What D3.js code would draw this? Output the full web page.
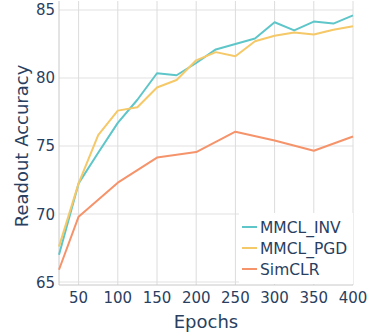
<!DOCTYPE html>
<html>
<head>
<meta charset="utf-8">
<script src="https://cdn.jsdelivr.net/npm/d3@7"></script>
<style>
  body { margin: 0; background: #fff; }
  text { font-family: "DejaVu Sans", Verdana, sans-serif; fill: #2a3f5f; }
</style>
</head>
<body>
<svg id="chart" width="373" height="332"></svg>
<script>
// data
const epochs = [25, 50, 75, 100, 125, 150, 175, 200, 225, 250, 275, 300, 325, 350, 375, 400];
const mmclInv = [67.0, 72.25, 74.5, 76.7, 78.4, 80.35, 80.2, 81.1, 82.1, 82.5, 82.9, 84.1, 83.5, 84.15, 84.0, 84.6];
const mmclPgd = [67.6, 72.25, 75.8, 77.6, 77.85, 79.3, 79.85, 81.3, 81.9, 81.6, 82.7, 83.1, 83.35, 83.2, 83.55, 83.8];
const simEpochs = [25, 50, 100, 150, 200, 250, 300, 350, 400];
const simclr = [65.9, 69.8, 72.3, 74.15, 74.55, 76.05, 75.4, 74.65, 75.7];
const xTicks = [50, 100, 150, 200, 250, 300, 350, 400];
const yTicks = [65, 70, 75, 80, 85];

const series = [
  { name: "MMCL_INV", xs: epochs, ys: mmclInv, color: "#5ec6c9" },
  { name: "MMCL_PGD", xs: epochs, ys: mmclPgd, color: "#f5c868" },
  { name: "SimCLR", xs: simEpochs, ys: simclr, color: "#f5936b" }
];

const svg = d3.select("#chart");
const pLeft = 59, pRight = 353, pTop = 1, pBottom = 285;

const x = d3.scaleLinear().domain([25, 400]).range([pLeft, pRight]);
const y = d3.scaleLinear().domain([64.78, 85.66]).range([pBottom, pTop]);

// grid
svg.selectAll(".hgrid").data(yTicks).enter().append("line")
  .attr("x1", pLeft).attr("x2", pRight)
  .attr("y1", d => y(d)).attr("y2", d => y(d))
  .attr("stroke", "#ebebeb").attr("stroke-width", 1.5);
svg.selectAll(".vgrid").data(xTicks).enter().append("line")
  .attr("x1", d => x(d)).attr("x2", d => x(d))
  .attr("y1", pTop).attr("y2", pBottom)
  .attr("stroke", "#dcdcdc").attr("stroke-width", 1);

// axis lines
svg.append("line").attr("x1", pLeft).attr("x2", pLeft).attr("y1", pTop).attr("y2", pBottom)
  .attr("stroke", "#c8c8c8").attr("stroke-width", 1);
svg.append("line").attr("x1", pLeft).attr("x2", pRight).attr("y1", pBottom).attr("y2", pBottom)
  .attr("stroke", "#c8c8c8").attr("stroke-width", 1);

// tick labels
svg.selectAll(".xt").data(xTicks).enter().append("text")
  .attr("x", d => x(d)).attr("y", 303)
  .attr("text-anchor", "middle").attr("font-size", 15)
  .text(d => d);
svg.selectAll(".yt").data(yTicks).enter().append("text")
  .attr("x", 55).attr("y", d => y(d) + 5.5)
  .attr("text-anchor", "end").attr("font-size", 15)
  .text(d => d);

// axis titles
svg.append("text").attr("x", 206).attr("y", 328)
  .attr("text-anchor", "middle").attr("font-size", 18).text("Epochs");
svg.append("text").attr("transform", "translate(28,146) rotate(-90)")
  .attr("text-anchor", "middle").attr("font-size", 18).text("Readout Accuracy");

// lines
const line = d3.line().x(d => x(d[0])).y(d => y(d[1]));
series.forEach(s => {
  svg.append("path")
    .datum(s.xs.map((v, i) => [v, s.ys[i]]))
    .attr("d", line)
    .attr("fill", "none")
    .attr("stroke", s.color)
    .attr("stroke-width", 2)
    .attr("stroke-linejoin", "round");
});

// legend
const lg = svg.append("g");
lg.append("rect").attr("x", 239).attr("y", 213).attr("width", 114).attr("height", 71)
  .attr("fill", "#fff");
series.forEach((s, i) => {
  const ly = 227 + i * 21;
  lg.append("line").attr("x1", 242).attr("x2", 257).attr("y1", ly).attr("y2", ly)
    .attr("stroke", s.color).attr("stroke-width", 2);
  lg.append("text").attr("x", 260).attr("y", ly + 5.5)
    .attr("font-size", 15.5).text(s.name);
});
</script>
</body>
</html>
